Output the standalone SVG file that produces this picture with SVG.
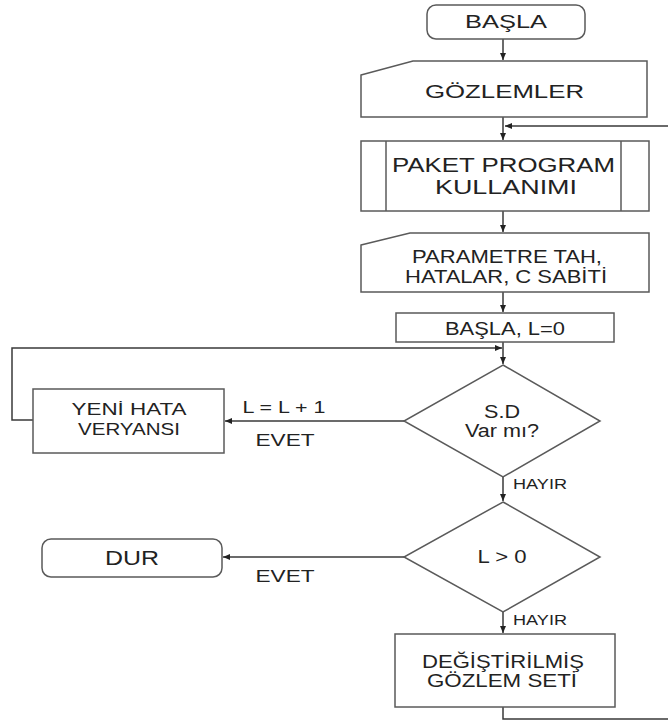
<svg xmlns="http://www.w3.org/2000/svg" width="668" height="722" viewBox="0 0 668 722">
<style>
.s{fill:#fff;stroke:#5a5a5a;stroke-width:1.5}
.c{fill:none;stroke:#3a3a3a;stroke-width:1.5}
text{font-family:"Liberation Sans",Arial,sans-serif;fill:#222;text-anchor:middle}
</style>
<defs>
<marker id="ah" markerWidth="8" markerHeight="8" refX="7" refY="4" orient="auto" markerUnits="userSpaceOnUse">
<path d="M0,1 L7,4 L0,7 Z" fill="#222"/>
</marker>
</defs>
<rect width="668" height="722" fill="#fff"/>
<g id="connectors">
<path class="c" d="M503,39 V60" marker-end="url(#ah)"/>
<path class="c" d="M503,117 V140" marker-end="url(#ah)"/>
<path class="c" d="M503,707 V719 H674 V126 H505" marker-end="url(#ah)"/>
<path class="c" d="M503,211 V232" marker-end="url(#ah)"/>
<path class="c" d="M503,292 V312" marker-end="url(#ah)"/>
<path class="c" d="M503,342 V364" marker-end="url(#ah)"/>
<path class="c" d="M33,420 H12 V348 H502" marker-end="url(#ah)"/>
<path class="c" d="M404,421 H225" marker-end="url(#ah)"/>
<path class="c" d="M503,477 V501" marker-end="url(#ah)"/>
<path class="c" d="M404,557 H223" marker-end="url(#ah)"/>
<path class="c" d="M503,612 V633" marker-end="url(#ah)"/>
</g>
<g id="start">
<rect class="s" x="427" y="5" width="158" height="34" rx="9"/>
<text x="506" y="28" font-size="18.5" textLength="82" lengthAdjust="spacingAndGlyphs">BAŞLA</text>
</g>
<g id="observations">
<path class="s" d="M361,75 L413,61 H647 V117 H361 Z"/>
<text x="504.5" y="98" font-size="18.5" textLength="159" lengthAdjust="spacingAndGlyphs">GÖZLEMLER</text>
</g>
<g id="package">
<rect class="s" x="361" y="141" width="288" height="70"/>
<line class="s" x1="386" y1="141" x2="386" y2="211"/>
<line class="s" x1="621" y1="141" x2="621" y2="211"/>
<text x="503.5" y="172" font-size="21" textLength="223" lengthAdjust="spacingAndGlyphs">PAKET PROGRAM</text>
<text x="506" y="194" font-size="21" textLength="142" lengthAdjust="spacingAndGlyphs">KULLANIMI</text>
</g>
<g id="parameters">
<path class="s" d="M361,245 L410,233 H649 V292 H361 Z"/>
<text x="507" y="263" font-size="17.7" textLength="190" lengthAdjust="spacingAndGlyphs">PARAMETRE TAH,</text>
<text x="506" y="283" font-size="17.7" textLength="202" lengthAdjust="spacingAndGlyphs">HATALAR, C SABİTİ</text>
</g>
<g id="init">
<rect class="s" x="396" y="313" width="218" height="29"/>
<text x="505" y="335" font-size="18.5" textLength="120" lengthAdjust="spacingAndGlyphs">BAŞLA, L=0</text>
</g>
<g id="decision1">
<path class="s" d="M503,365 L600,421 L503,477 L404,421 Z"/>
<text x="502" y="418" font-size="17.5" textLength="36" lengthAdjust="spacingAndGlyphs">S.D</text>
<text x="502" y="437" font-size="17.5" textLength="74" lengthAdjust="spacingAndGlyphs">Var mı?</text>
</g>
<g id="newvariance">
<rect class="s" x="33" y="389" width="191" height="64"/>
<text x="129" y="415" font-size="17" textLength="115" lengthAdjust="spacingAndGlyphs">YENİ HATA</text>
<text x="129" y="435" font-size="17" textLength="102" lengthAdjust="spacingAndGlyphs">VERYANSI</text>
</g>
<g id="decision2">
<path class="s" d="M503,502 L600,557 L503,612 L404,557 Z"/>
<text x="502" y="563" font-size="17.5" textLength="49" lengthAdjust="spacingAndGlyphs">L &gt; 0</text>
</g>
<g id="stop">
<rect class="s" x="42" y="539" width="180" height="38" rx="9"/>
<text x="132" y="565" font-size="20" textLength="54" lengthAdjust="spacingAndGlyphs">DUR</text>
</g>
<g id="modified">
<rect class="s" x="395" y="634" width="220" height="73"/>
<text x="503" y="668" font-size="18" textLength="162" lengthAdjust="spacingAndGlyphs">DEĞİŞTİRİLMİŞ</text>
<text x="502" y="687" font-size="18" textLength="150" lengthAdjust="spacingAndGlyphs">GÖZLEM SETİ</text>
</g>
<g id="labels">
<text x="284" y="413" font-size="16.3" textLength="83" lengthAdjust="spacingAndGlyphs">L = L + 1</text>
<text x="285" y="446" font-size="17" textLength="59" lengthAdjust="spacingAndGlyphs">EVET</text>
<text x="285" y="582" font-size="17" textLength="59" lengthAdjust="spacingAndGlyphs">EVET</text>
<text x="540" y="489" font-size="14" textLength="54" lengthAdjust="spacingAndGlyphs">HAYIR</text>
<text x="540" y="625" font-size="14" textLength="54" lengthAdjust="spacingAndGlyphs">HAYIR</text>
</g>
</svg>
